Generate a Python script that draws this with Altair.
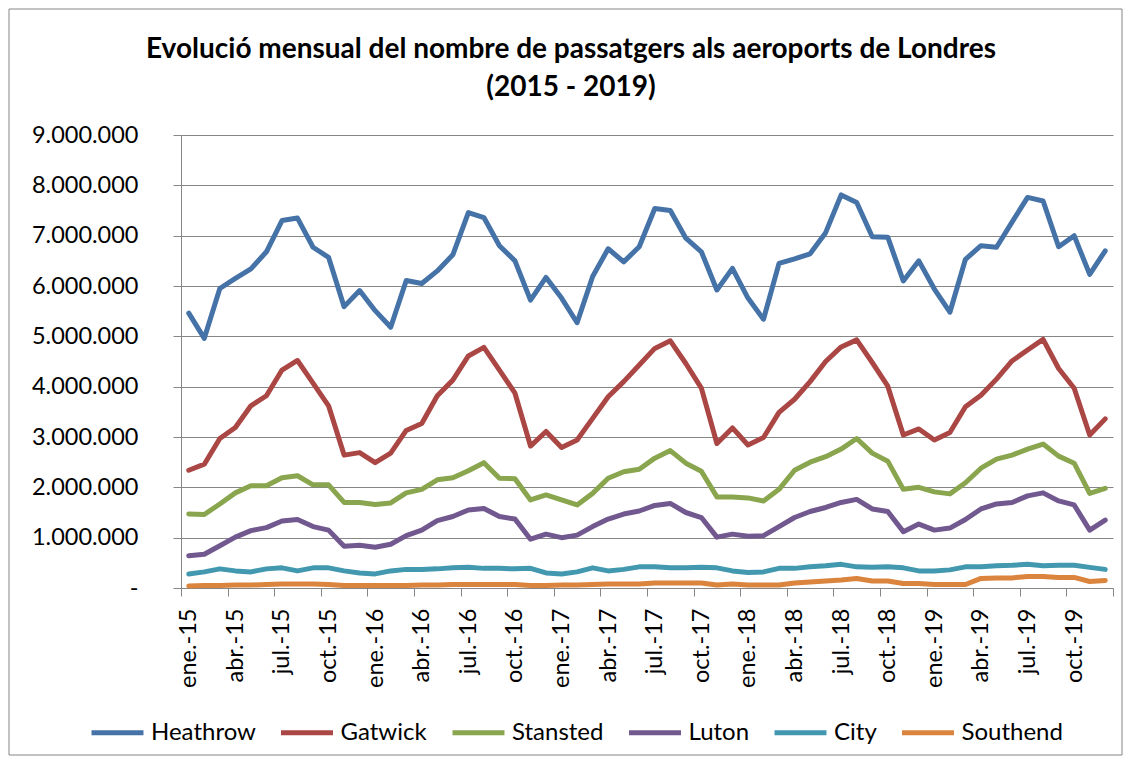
import altair as alt
import pandas as pd

airports = ["Heathrow", "Gatwick", "Stansted", "Luton", "City", "Southend"]
colors = ["#4572A7", "#AA4643", "#89A54E", "#71588F", "#4198AF", "#DB843D"]

title_lines = ["Evolució mensual del nombre de passatgers als aeroports de Londres", "(2015 - 2019)"]

quarter_labels = ["ene.-15", "abr.-15", "jul.-15", "oct.-15",
                  "ene.-16", "abr.-16", "jul.-16", "oct.-16",
                  "ene.-17", "abr.-17", "jul.-17", "oct.-17",
                  "ene.-18", "abr.-18", "jul.-18", "oct.-18",
                  "ene.-19", "abr.-19", "jul.-19", "oct.-19"]

heathrow = [5.46, 4.96, 5.95, 6.15, 6.34, 6.68, 7.30, 7.35, 6.77, 6.57, 5.59, 5.91,
            5.51, 5.18, 6.11, 6.05, 6.30, 6.62, 7.46, 7.36, 6.80, 6.50, 5.72, 6.17,
            5.76, 5.27, 6.19, 6.74, 6.48, 6.78, 7.54, 7.50, 6.95, 6.68, 5.92, 6.35,
            5.76, 5.34, 6.45, 6.54, 6.64, 7.06, 7.81, 7.66, 6.98, 6.97, 6.10, 6.50,
            5.94, 5.48, 6.53, 6.80, 6.77, 7.27, 7.76, 7.69, 6.78, 7.00, 6.23, 6.70]
gatwick = [2.34, 2.46, 2.97, 3.19, 3.62, 3.82, 4.33, 4.52, 4.07, 3.62, 2.64, 2.69,
           2.49, 2.68, 3.13, 3.27, 3.82, 4.13, 4.61, 4.78, 4.33, 3.87, 2.82, 3.11,
           2.79, 2.94, 3.37, 3.80, 4.10, 4.43, 4.76, 4.91, 4.46, 3.97, 2.87, 3.18,
           2.84, 2.99, 3.49, 3.75, 4.10, 4.50, 4.79, 4.93, 4.48, 4.01, 3.04, 3.16,
           2.94, 3.09, 3.60, 3.83, 4.15, 4.51, 4.73, 4.94, 4.36, 3.97, 3.04, 3.36]
stansted = [1.47, 1.46, 1.67, 1.89, 2.03, 2.03, 2.19, 2.23, 2.05, 2.05, 1.70, 1.70,
            1.66, 1.69, 1.89, 1.96, 2.15, 2.19, 2.33, 2.49, 2.18, 2.17, 1.75, 1.85,
            1.75, 1.65, 1.88, 2.18, 2.31, 2.36, 2.58, 2.73, 2.48, 2.32, 1.81, 1.81,
            1.79, 1.73, 1.96, 2.34, 2.50, 2.61, 2.76, 2.97, 2.68, 2.52, 1.96, 2.00,
            1.91, 1.87, 2.09, 2.38, 2.56, 2.64, 2.76, 2.86, 2.62, 2.48, 1.88, 1.98]
luton = [0.64, 0.67, 0.84, 1.01, 1.14, 1.20, 1.33, 1.36, 1.22, 1.15, 0.83, 0.85,
         0.81, 0.87, 1.04, 1.15, 1.34, 1.42, 1.55, 1.58, 1.42, 1.37, 0.97, 1.07,
         1.00, 1.05, 1.22, 1.37, 1.47, 1.53, 1.64, 1.68, 1.50, 1.40, 1.01, 1.07,
         1.03, 1.04, 1.22, 1.40, 1.52, 1.60, 1.70, 1.76, 1.57, 1.52, 1.12, 1.27,
         1.15, 1.19, 1.36, 1.57, 1.67, 1.70, 1.83, 1.89, 1.73, 1.65, 1.15, 1.35]
city = [0.28, 0.32, 0.38, 0.34, 0.32, 0.38, 0.40, 0.34, 0.40, 0.40, 0.34, 0.30,
        0.28, 0.34, 0.37, 0.37, 0.38, 0.40, 0.41, 0.39, 0.39, 0.38, 0.39, 0.30,
        0.28, 0.32, 0.40, 0.34, 0.37, 0.42, 0.42, 0.40, 0.40, 0.41, 0.40, 0.34,
        0.31, 0.32, 0.39, 0.39, 0.42, 0.44, 0.47, 0.42, 0.41, 0.42, 0.40, 0.34,
        0.34, 0.36, 0.42, 0.42, 0.44, 0.45, 0.47, 0.44, 0.45, 0.45, 0.41, 0.37]
southend = [0.04, 0.05, 0.05, 0.06, 0.06, 0.07, 0.08, 0.08, 0.08, 0.07, 0.05, 0.05,
            0.05, 0.05, 0.05, 0.06, 0.06, 0.07, 0.07, 0.07, 0.07, 0.07, 0.05, 0.05,
            0.06, 0.06, 0.07, 0.08, 0.08, 0.08, 0.10, 0.10, 0.10, 0.10, 0.06, 0.08,
            0.06, 0.06, 0.06, 0.10, 0.12, 0.14, 0.16, 0.19, 0.14, 0.14, 0.09, 0.09,
            0.07, 0.07, 0.07, 0.19, 0.20, 0.20, 0.23, 0.23, 0.21, 0.21, 0.13, 0.15]

series = [heathrow, gatwick, stansted, luton, city, southend]
rows = []
for name, vals in zip(airports, series):
    for i, v in enumerate(vals):
        rows.append({"mes": i, "aeroport": name, "passatgers": v * 1_000_000})
df = pd.DataFrame(rows)

label_array = "[" + ",".join("'%s'" % l for l in quarter_labels) + ",'']"
tick_values = [-0.5 + 3 * k for k in range(21)]

FONT = "Lato"
GRAY = "#868686"

lines = alt.Chart(df).mark_line(strokeWidth=5, strokeCap="round", strokeJoin="round").encode(
    x=alt.X("mes:Q",
            scale=alt.Scale(domain=[-0.5, 59.5], nice=False, zero=False),
            axis=alt.Axis(values=tick_values, title=None, grid=False,
                          labelExpr=label_array + "[round((datum.value + 0.5) / 3)]",
                          labelAngle=-90, labelAlign="right", labelBaseline="middle",
                          labelOffset=7.75, labelPadding=12, labelFont=FONT, labelFontSize=23.5,
                          labelColor="black", labelOverlap=False, labelFlush=False,
                          tickSize=8, tickColor=GRAY, domainColor=GRAY)),
    y=alt.Y("passatgers:Q",
            scale=alt.Scale(domain=[0, 9_000_000], nice=False),
            axis=alt.Axis(values=[i * 1_000_000 for i in range(10)], title=None,
                          labelExpr="datum.value == 0 ? '-' : replace(replace(format(datum.value, ',d'), ',', '.'), ',', '.')",
                          labelFont=FONT, labelFontSize=23.5, labelColor="black", labelPadding=35,
                          tickSize=8, tickColor=GRAY, domainColor=GRAY,
                          gridColor=GRAY, gridOpacity=1)),
    color=alt.Color("aeroport:N",
                    scale=alt.Scale(domain=airports, range=colors),
                    legend=alt.Legend(title=None, orient="none", legendX=-92, legendY=569,
                                      direction="horizontal", columns=6,
                                      symbolType="stroke", symbolSize=2700, symbolStrokeWidth=5,
                                      labelFont=FONT, labelFontSize=24, labelColor="black",
                                      labelOffset=5, columnPadding=14.5, labelLimit=300)),
)

one = pd.DataFrame({"k": [0]})

border = alt.Chart(one).mark_rect(fill=None, stroke=GRAY, strokeWidth=1).encode(
    x=alt.value(-172), x2=alt.value(941), y=alt.value(-126), y2=alt.value(620)
)

title1 = alt.Chart(one).mark_text(
    text=title_lines[0], font=FONT, fontSize=28, fontWeight="bold", color="black",
    align="center", baseline="middle"
).encode(x=alt.value(390), y=alt.value(-85))

title2 = alt.Chart(one).mark_text(
    text=title_lines[1], font=FONT, fontSize=28, fontWeight="bold", color="black",
    align="center", baseline="middle"
).encode(x=alt.value(390), y=alt.value(-47))

chart = alt.layer(border, title1, title2, lines).properties(
    width=932, height=453,
    autosize=alt.AutoSizeParams(type="none"),
    padding={"left": 173, "top": 127, "right": 10, "bottom": 168},
).configure_view(stroke=None)

chart.save("out.html", embed_options={"renderer": "svg", "actions": False})
